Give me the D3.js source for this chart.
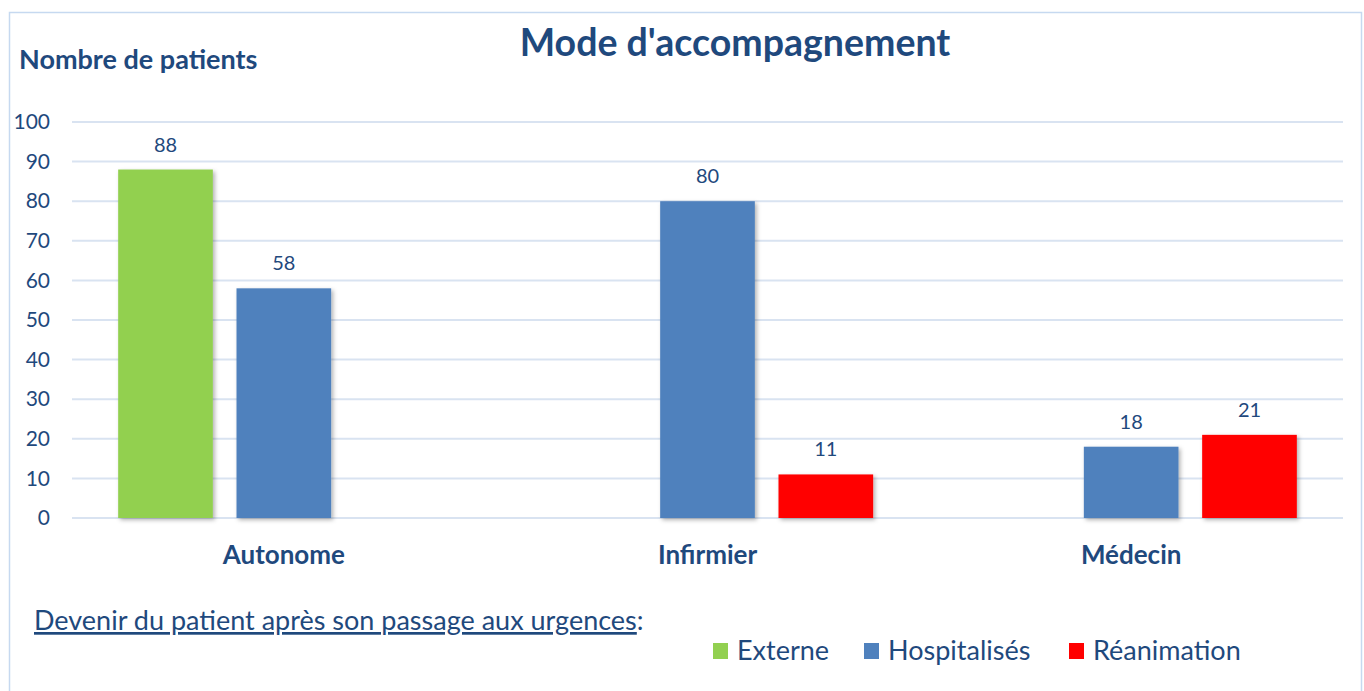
<!DOCTYPE html>
<html>
<head>
<meta charset="utf-8">
<script src="https://cdn.jsdelivr.net/npm/d3@7"></script>
<style>
  html, body { margin: 0; padding: 0; background: #fff; }
  svg { display: block; font-family: Lato, "Open Sans", sans-serif; }
</style>
</head>
<body>
<script>
var categories = ['Autonome', 'Infirmier', 'Médecin']
var series = ['Externe', 'Hospitalisés', 'Réanimation']
var colors = ['#92d050', '#4f81bd', '#ff0000']
// null = no bar drawn
var externe = [88, null, null]
var hospitalises = [58, 80, 18]
var reanimation = [null, 11, 21]
var yTicks = [0, 10, 20, 30, 40, 50, 60, 70, 80, 90, 100]

var W = 1364, H = 691
  , textCol = '#1f497d'
  , gridCol = '#d9e3f1'

var svg = d3.select('body').append('svg')
  .attr('width', W)
  .attr('height', H)

var defs = svg.append('defs')
defs.append('filter').attr('id', 'shadow')
    .attr('x', '-20%').attr('y', '-20%').attr('width', '140%').attr('height', '140%')
  .append('feDropShadow')
    .attr('dx', 2).attr('dy', 2).attr('stdDeviation', 2)
    .attr('flood-color', '#000').attr('flood-opacity', 0.3)

// outer frame
svg.append('rect')
  .attr('x', 9.5).attr('y', 12.5)
  .attr('width', W - 12).attr('height', H - 10)
  .attr('fill', 'none')
  .attr('stroke', '#c6d9f0')
  .attr('stroke-width', 1.5)

var x0 = d3.scaleBand().domain(categories).range([72, 1343])
var bw = x0.bandwidth()
  , gp = bw * 0.109
var x1 = d3.scaleBand().domain(series).range([gp, bw - gp]).paddingInner(0.2)
var y = d3.scaleLinear().domain([0, 100]).range([518, 122])

// grid
svg.append('g').selectAll('line').data(yTicks).enter()
  .append('line')
  .attr('x1', 72).attr('x2', 1343)
  .attr('y1', function(d) { return y(d) })
  .attr('y2', function(d) { return y(d) })
  .attr('stroke', gridCol)
  .attr('stroke-width', 2)

// y axis labels
var yAxis = d3.axisLeft(y).tickValues(yTicks).tickSize(0).tickPadding(0)
var ya = svg.append('g').attr('transform', 'translate(50,0)').call(yAxis)
ya.select('.domain').remove()
ya.selectAll('text')
  .attr('fill', textCol)
  .style('font-size', '21px')
  .style('font-family', 'Lato, sans-serif')

var rows = []
categories.forEach(function(c, i) {
  var vals = [externe[i], hospitalises[i], reanimation[i]]
  vals.forEach(function(v, j) {
    if (v != null) rows.push({ cat: c, s: series[j], v: v, col: colors[j] })
  })
})

var bars = svg.append('g')
bars.selectAll('rect').data(rows).enter()
  .append('rect')
  .attr('x', function(d) { return x0(d.cat) + x1(d.s) })
  .attr('y', function(d) { return y(d.v) })
  .attr('width', x1.bandwidth())
  .attr('height', function(d) { return y(0) - y(d.v) })
  .attr('fill', function(d) { return d.col })
  .attr('filter', 'url(#shadow)')

bars.selectAll('text').data(rows).enter()
  .append('text')
  .attr('x', function(d) { return x0(d.cat) + x1(d.s) + x1.bandwidth() / 2 })
  .attr('y', function(d) { return y(d.v) - 18 })
  .attr('text-anchor', 'middle')
  .attr('fill', textCol)
  .style('font-size', '20px')
  .text(function(d) { return d.v })

// category labels
var xAxis = d3.axisBottom(x0).tickSize(0).tickPadding(0)
var xa = svg.append('g').attr('transform', 'translate(0,546)').call(xAxis)
xa.select('.domain').remove()
xa.selectAll('text')
  .attr('fill', textCol)
  .attr('dy', '0.71em')
  .style('font-size', '26px')
  .style('font-weight', 'bold')
  .style('font-family', 'Lato, sans-serif')

// titles
svg.append('text')
  .attr('x', 735).attr('y', 56)
  .attr('text-anchor', 'middle')
  .attr('fill', textCol)
  .style('font-size', '37.5px')
  .style('font-weight', 'bold')
  .text("Mode d'accompagnement")

svg.append('text')
  .attr('x', 19).attr('y', 69)
  .attr('fill', textCol)
  .style('font-size', '27px')
  .style('font-weight', 'bold')
  .text('Nombre de patients')

svg.append('text')
  .attr('x', 34).attr('y', 630)
  .attr('fill', textCol)
  .style('font-size', '27px')
  .html('<tspan text-decoration="underline">Devenir du patient après son passage aux urgences</tspan>:')

// legend
var legX = [713, 864, 1069]
var leg = svg.append('g').selectAll('g').data(series).enter()
  .append('g')
  .attr('transform', function(d, i) { return 'translate(' + legX[i] + ',643)' })
leg.append('rect')
  .attr('width', 15).attr('height', 16)
  .attr('fill', function(d, i) { return colors[i] })
leg.append('text')
  .attr('x', 24).attr('y', 17)
  .attr('fill', textCol)
  .style('font-size', '27px')
  .text(function(d) { return d })
</script>
</body>
</html>
